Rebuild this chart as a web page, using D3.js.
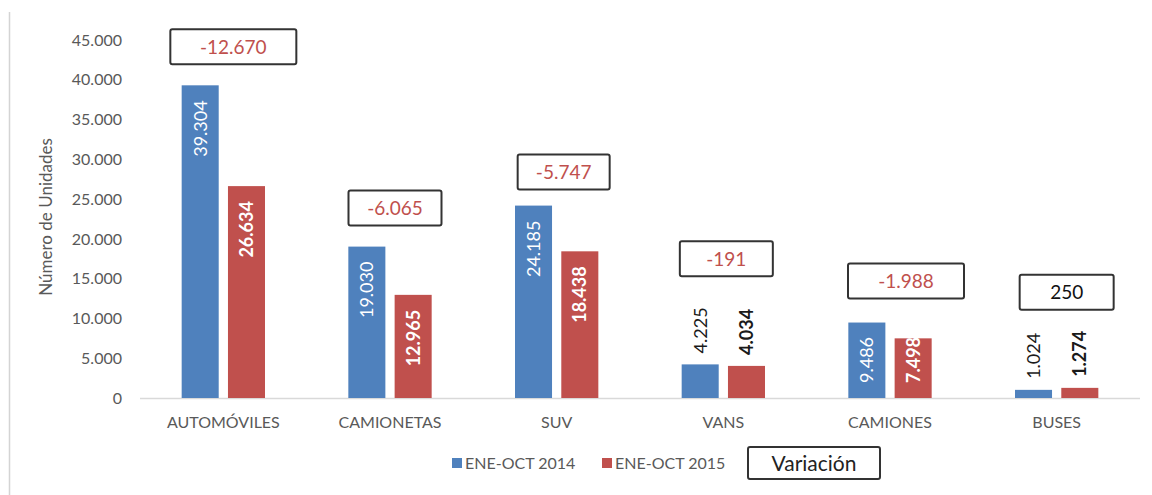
<!DOCTYPE html>
<html>
<head>
<meta charset="utf-8">
<script src="https://cdn.jsdelivr.net/npm/d3@7"></script>
<style>
  body { margin: 0; background: #fff; }
  text { font-family: Lato, "Open Sans", sans-serif; }
</style>
</head>
<body>
<div id="main"></div>
<script>
// data
var categories = ["AUTOMÓVILES", "CAMIONETAS", "SUV", "VANS", "CAMIONES", "BUSES"];
var series = ["ENE-OCT 2014", "ENE-OCT 2015"];
var values2014 = [39304, 19030, 24185, 4225, 9486, 1024];
var values2015 = [26634, 12965, 18438, 4034, 7498, 1274];
var yTicks = [0, 5000, 10000, 15000, 20000, 25000, 30000, 35000, 40000, 45000];

// layout for the hand drawn "Variación" boxes
var boxW = [126, 93, 92, 93, 116, 94];
var boxDx = [10, 5, 7, 3, 16, 10];
var boxDy = [0, 0, 5, -10, -3, 0];

var ctx = {
    w: 1152,
    h: 495,
    left: 140,
    right: 1140,
    top: 40,
    bottom: 398,
    colors: ["#4f81bd", "#c0504d"],
    axisText: "#595959"
};

var loc = d3.formatLocale({ decimal: ",", thousands: ".", grouping: [3], currency: ["", ""], minus: "-" });
var fmt = loc.format(",d");

var svg = d3.select("#main").append("svg")
    .attr("width", ctx.w)
    .attr("height", ctx.h);

svg.append("rect").attr("width", ctx.w).attr("height", ctx.h).attr("fill", "#fff");
// faint frame line on the left
svg.append("line")
    .attr("x1", 9.5).attr("x2", 9.5).attr("y1", 12).attr("y2", ctx.h)
    .attr("stroke", "#d4d4d4").attr("stroke-width", 1.5);

var rows = categories.map(function(c, i) {
    return { cat: c, vals: [values2014[i], values2015[i]], i: i };
});

var x0 = d3.scaleBand().domain(categories).range([ctx.left, ctx.right]).padding(0);
var x1 = d3.scaleBand().domain(series)
    .range([x0.bandwidth() * 0.25, x0.bandwidth() * 0.75])
    .paddingInner(0.2);
var y = d3.scaleLinear().domain([0, 45000]).range([ctx.bottom, ctx.top]);

// y axis labels
var yAxis = d3.axisLeft(y).tickValues(yTicks).tickFormat(function(d) { return fmt(d); }).tickSize(0).tickPadding(0);
var yg = svg.append("g").attr("transform", "translate(122,0)").call(yAxis);
yg.select(".domain").remove();
yg.selectAll("text")
    .attr("fill", ctx.axisText)
    .style("font-size", "16px")
    .style("font-family", "Lato, sans-serif");

svg.append("text")
    .attr("transform", "translate(52,217) rotate(-90)")
    .attr("text-anchor", "middle")
    .attr("fill", ctx.axisText)
    .style("font-size", "17px")
    .text("Número de Unidades");

// baseline
svg.append("line")
    .attr("x1", ctx.left).attr("x2", ctx.right)
    .attr("y1", y(0) + 0.5).attr("y2", y(0) + 0.5)
    .attr("stroke", "#d9d9d9").attr("stroke-width", 1.5);

// x category labels
var xAxis = d3.axisBottom(x0).tickSize(0).tickPadding(0);
var xg = svg.append("g").attr("transform", "translate(0," + (ctx.bottom + 30) + ")").call(xAxis);
xg.select(".domain").remove();
xg.selectAll("text")
    .attr("fill", ctx.axisText)
    .attr("dy", 0)
    .style("font-size", "16px")
    .style("font-family", "Lato, sans-serif");

var groups = svg.selectAll(".grp")
    .data(rows)
    .enter().append("g")
    .attr("class", "grp")
    .attr("transform", function(d) { return "translate(" + x0(d.cat) + ",0)"; });

var bars = groups.selectAll(".bar")
    .data(function(d) { return d.vals.map(function(v, k) { return { v: v, k: k, s: series[k] }; }); })
    .enter();

bars.append("rect")
    .attr("x", function(d) { return x1(d.s); })
    .attr("width", x1.bandwidth())
    .attr("y", function(d) { return y(d.v); })
    .attr("height", function(d) { return y(0) - y(d.v); })
    .attr("fill", function(d) { return ctx.colors[d.k]; });

// value labels, rotated; inside for tall bars, above for short ones
bars.append("text")
    .attr("class", "vlab")
    .attr("dy", "0.36em")
    .attr("text-anchor", function(d) { return d.v > 5000 ? "end" : "start"; })
    .attr("fill", function(d) { return d.v > 5000 ? "#fff" : "#1a1a1a"; })
    .style("font-weight", function(d) { return d.k === 1 ? "bold" : "normal"; })
    .style("font-size", "18px")
    .text(function(d) { return fmt(d.v); })
    .attr("transform", function(d) {
        var cx = x1(d.s) + x1.bandwidth() / 2;
        var len = this.getComputedTextLength();
        var yy = d.v > 5000
            ? Math.min(y(d.v) + 15, y(0) - 15 - len)
            : y(d.v) - 11;
        return "translate(" + cx + "," + yy + ") rotate(-90)";
    });

// variation boxes
groups.each(function(d) {
    var g = d3.select(this);
    var top = y(d3.max(d.vals));
    g.selectAll(".vlab").each(function(b) {
        if (b.v <= 5000) {
            top = Math.min(top, y(b.v) - 11 - this.getComputedTextLength());
        }
    });
    var diff = d.vals[1] - d.vals[0];
    var bw = boxW[d.i], bh = 35;
    var cx = x0.bandwidth() / 2 + boxDx[d.i];
    var by = top - 21 - bh + boxDy[d.i];
    g.append("rect")
        .attr("x", cx - bw / 2).attr("y", by)
        .attr("width", bw).attr("height", bh)
        .attr("rx", 2)
        .attr("fill", "#fff")
        .attr("stroke", "#333").attr("stroke-width", 2);
    g.append("text")
        .attr("x", cx).attr("y", by + bh / 2)
        .attr("dy", "0.36em")
        .attr("text-anchor", "middle")
        .attr("fill", diff < 0 ? "#c0504d" : "#111")
        .style("font-size", "19px")
        .text(fmt(diff));
});

// legend
var legend = svg.append("g").attr("transform", "translate(452,463)");
var lx = [0, 150];
series.forEach(function(s, k) {
    legend.append("rect")
        .attr("x", lx[k]).attr("y", -5)
        .attr("width", 10).attr("height", 10)
        .attr("fill", ctx.colors[k]);
    legend.append("text")
        .attr("x", lx[k] + 13).attr("y", 0)
        .attr("dy", "0.35em")
        .attr("fill", ctx.axisText)
        .style("font-size", "16px")
        .text(s);
});
legend.append("rect")
    .attr("x", 296).attr("y", -16)
    .attr("width", 132).attr("height", 32)
    .attr("rx", 2)
    .attr("fill", "#fff")
    .attr("stroke", "#333").attr("stroke-width", 2);
legend.append("text")
    .attr("x", 362).attr("y", 0)
    .attr("dy", "0.36em")
    .attr("text-anchor", "middle")
    .attr("fill", "#222")
    .style("font-size", "21px")
    .text("Variación");
</script>
</body>
</html>
